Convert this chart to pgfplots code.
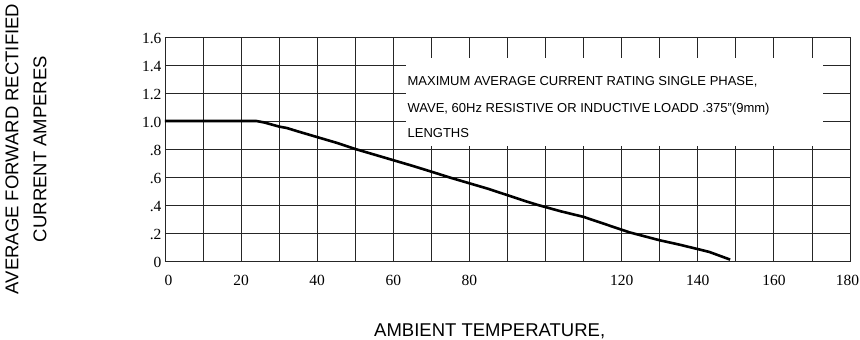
\documentclass[border=0pt]{standalone}
\usepackage{fontspec}
\setmainfont{Liberation Sans}
\newfontfamily\serifnum{Liberation Serif}
\usepackage{pgfplots}
\pgfplotsset{compat=1.18}
\begin{document}
\begin{tikzpicture}[x=1pt,y=1pt]
\useasboundingbox (0,0) rectangle (860,340);
\begin{axis}[
  at={(165pt,79pt)}, anchor=south west,
  scale only axis, width=685pt, height=224pt,
  xmin=0, xmax=180, ymin=0, ymax=1.6,
  xtick={0,10,20,30,40,50,60,70,80,90,100,110,120,130,140,150,160,170,180},
  xticklabels={\hspace*{7pt}0,,20,,40,,60,,80,,,,120,,140,,160,,180\hspace*{5pt}},
  ytick={0,0.2,0.4,0.6,0.8,1.0,1.2,1.4,1.6},
  yticklabels={0,.2,.4,.6,.8,1.0,1.2,1.4,1.6},
  grid=major,
  major grid style={black!85, line width=0.8pt},
  axis line style={black!85, line width=0.8pt},
  major tick length=0pt,
  tick label style={font=\serifnum\fontsize{15.5}{18}\selectfont},
  xticklabel style={yshift=-11pt},
  yticklabel style={yshift=-1.5pt},
  xlabel={AMBIENT TEMPERATURE,},
  xlabel style={at={(axis description cs:0.474,-0.335)}, anchor=base, font=\fontsize{18.5}{22}\selectfont},
  ylabel={AVERAGE FORWARD RECTIFIED\\CURRENT AMPERES},
  ylabel style={at={(axis description cs:-0.203,0.5)}, anchor=center, rotate=0, align=center, font=\fontsize{18.5}{28}\selectfont},
]
\fill[white] (axis cs:63.2,0.82) rectangle (axis cs:172.9,1.45);
\node[anchor=base west, inner sep=0pt, font=\fontsize{13}{15}\selectfont] at (axis cs:63.7,1.25) {MAXIMUM AVERAGE CURRENT RATING SINGLE PHASE,};
\node[anchor=base west, inner sep=0pt, font=\fontsize{13}{15}\selectfont] at (axis cs:63.7,1.064) {WAVE, 60Hz RESISTIVE OR INDUCTIVE LOADD .375"(9mm)};
\node[anchor=base west, inner sep=0pt, font=\fontsize{13}{15}\selectfont] at (axis cs:63.7,0.879) {LENGTHS};
\addplot[black, line width=2.6pt, line join=round] coordinates {
(0,1.0) (24,1.0) (26,0.99) (28,0.975) (30,0.96) (32,0.95) (35,0.925) (40,0.885) (45,0.845) (50,0.80) (55,0.76) (60,0.72) (65,0.68) (70,0.638) (75,0.595) (80,0.555) (85,0.515) (90,0.47) (95,0.425) (98,0.40) (104,0.355) (110,0.315) (116,0.26) (122,0.205) (130,0.148) (135,0.118) (140,0.085) (143,0.065) (146,0.035) (148.5,0.01)
};
\end{axis}
\end{tikzpicture}
\end{document}
